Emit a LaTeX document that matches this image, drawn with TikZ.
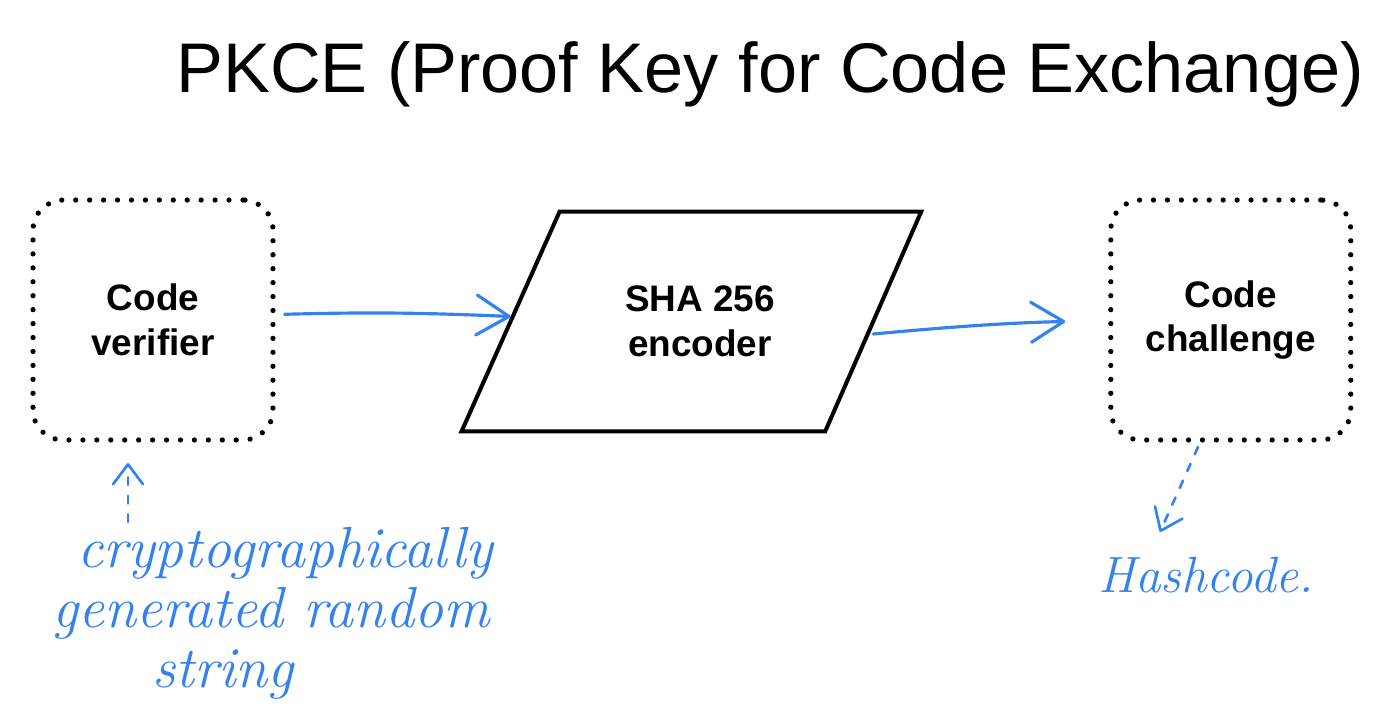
\documentclass[tikz,border=0pt]{standalone}
\usepackage{fontspec}
\usepackage{tikz}
\usetikzlibrary{positioning}
\usetikzlibrary{arrows.meta}

\newfontfamily\headfont{Liberation Sans}
\definecolor{penblue}{RGB}{52,130,240}

\tikzset{
  dotbox/.style={draw, line width=3pt, dash pattern=on 0pt off 7.934pt, line cap=round,
    rounded corners=0.6cm, minimum width=4.8cm, minimum height=4.8cm, align=center,
    font=\headfont\bfseries\fontsize{21}{25.5}\selectfont},
  coderbox/.style={minimum width=5.3cm, minimum height=4.38cm, align=center, inner sep=0pt,
    font=\headfont\bfseries\fontsize{21}{25.5}\selectfont},
  slant/.style={draw, line width=2.3pt, line join=miter},
  pen/.style={penblue, line width=1.8pt, line cap=round, line join=round},
  penarrow/.style={pen, -{Straight Barb[length=0.65cm, width=0.8cm, round]}},
  pendash/.style={pen, line width=1.5pt, dash pattern=on 4.5pt off 6pt,
    -{Straight Barb[length=0.4cm, width=0.6cm, round]}},
  note/.style={penblue, font=\itshape\fontsize{33}{34}\selectfont, align=left, inner sep=0pt}
}

\begin{document}
\begin{tikzpicture}[x=0.02cm, y=-0.02cm]
    \useasboundingbox (0,0) rectangle (1375,711);

    % title
    \node[anchor=base, font=\headfont\fontsize{40}{48}\selectfont] (title) at (770,92)
        {PKCE (Proof Key for Code Exchange)};

    % boxes
    \node[dotbox] (verifier) at (153,320) {Code\\verifier};
    \node[coderbox, right=5.68cm of verifier, yshift=-0.03cm] (encoder) {\hspace*{0.3cm}SHA 256\\\hspace*{0.3cm}encoder};
    \node[dotbox, right=5.66cm of encoder, yshift=0.03cm] (challenge) {Code\\challenge};

    % parallelogram round the encoder
    \draw[slant] ([xshift=-1.96cm]encoder.south west) -- (encoder.north west)
        -- ([xshift=1.92cm]encoder.north east) -- (encoder.south east) -- cycle;
    \coordinate (encin) at ([xshift=-0.98cm, yshift=0.1cm]encoder.west);
    \coordinate (encout) at ([xshift=0.96cm, yshift=-0.25cm]encoder.east);

    % handwritten arrows
    \draw[penarrow, shorten <=0.18cm] (verifier) to[bend left=2] (encin);
    \draw[penarrow, shorten >=0.86cm] (encout) to[bend left=2] (challenge);

    % notes
    \node[note, anchor=north west] (random) at (52,527)
        {\hspace*{0.5cm}cryptographically\\generated random\\\hspace*{2cm}string};
    \node[note, anchor=base west, font=\itshape\fontsize{29}{34}\selectfont] (hash) at (1098,592) {Hashcode.};

    \coordinate (randfrom) at (128,522);
    \coordinate (randto) at (128,463);
    \coordinate (hashfrom) at (1198,447);
    \coordinate (hashto) at (1160,532);

    \draw[pendash] (randfrom) -- (randto);
    \draw[pendash] (hashfrom) -- (hashto);
\end{tikzpicture}
\end{document}
